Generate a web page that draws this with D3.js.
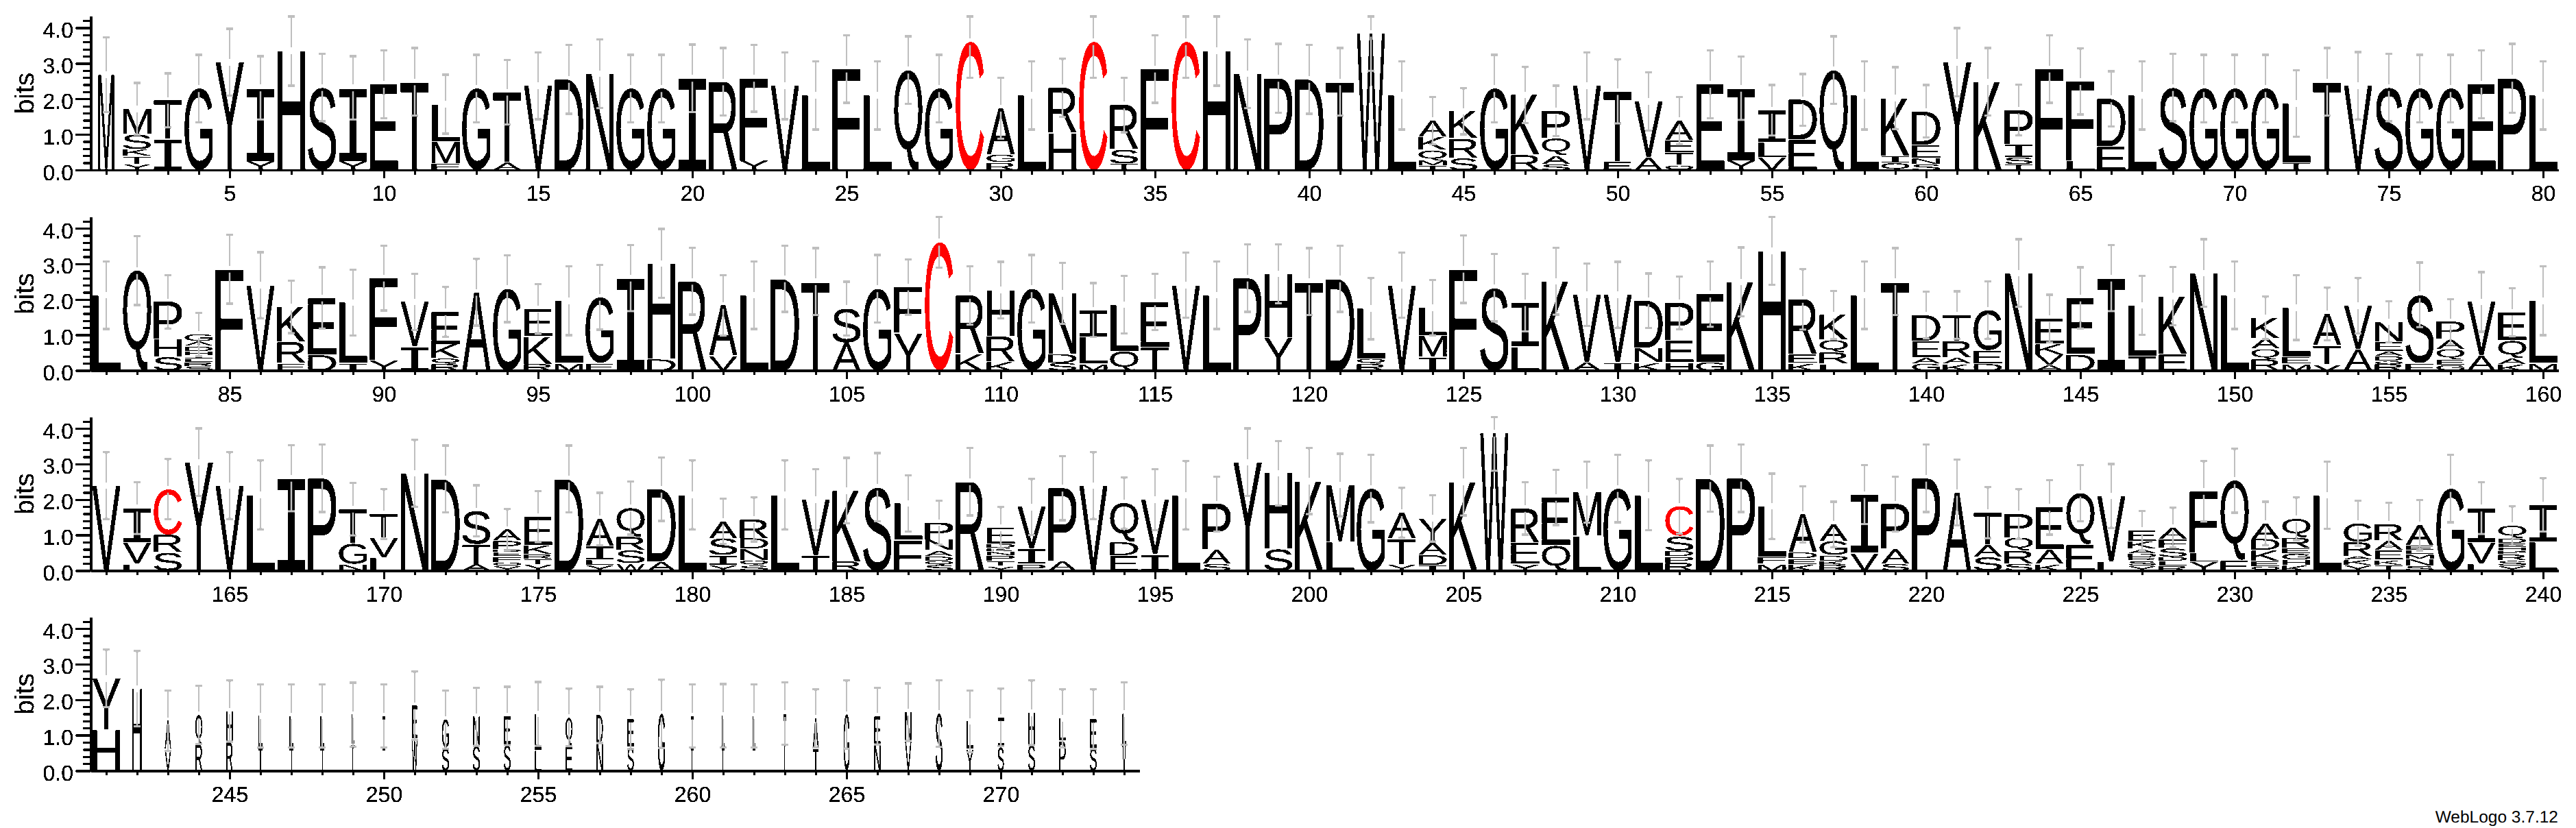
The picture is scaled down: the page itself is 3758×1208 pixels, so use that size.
<!DOCTYPE html>
<html><head><meta charset="utf-8">
<style>html,body{margin:0;background:#fff}svg{display:block}text{font-family:"Liberation Sans",Arial,sans-serif;text-rendering:geometricPrecision}</style>
<script src="https://d3js.org/d3.v7.min.js"></script></head><body><svg id="c" width="3758" height="1208"></svg>
<script>
const row1Letters=["M","YTKSM","IT","G","Y","YI","H","S","YI","E","T","FML","G","AT","V","D","N","G","G","I","R","YF","V","L","F","L","Q","G","C","RGA","L","HR","C","TSR","F","C","H","N","P","D","T","W","L","TMQKA","SRK","G","RK","SAQP","V","ET","AV","QTEA","E","YI","VLI","ED","Q","L","QIK","SNED","Y","K","TSIP","F","LF","ED","L","S","G","G","G","TL","T","V","S","G","G","E","P","L"];
const row1Bits=[[2.68],[.16,.22,.2,.42,.72],[.86,1.1],[2.29],[3.03],[.24,2.07],[3.35],[2.32],[.24,2.07],[2.41],[2.48],[.18,.62,1.05],[2.29],[.21,1.98],[2.37],[2.55],[2.71],[2.29],[2.29],[2.58],[2.48],[.26,2.32],[2.37],[2.1],[2.84],[2.1],[2.81],[2.29],[3.61],[.2,.22,1.32],[2.1],[1.03,1.28],[3.61],[.17,.4,1.26],[2.84],[3.61],[3.35],[2.71],[2.58],[2.55],[2.48],[3.85],[2.1],[.11,.15,.29,.37,.47],[.33,.55,.77],[2.29],[.42,1.69],[.16,.24,.48,.78],[2.37],[.23,1.98],[.35,1.58],[.13,.35,.35,.56],[2.41],[.26,2.04],[.35,.42,.91],[.84,1.13],[2.81],[2.1],[.19,.2,1.63],[.16,.17,.37,.95],[3.03],[2.48],[.15,.2,.37,.97],[2.84],[.25,2.24],[.65,1.35],[2.1],[2.32],[2.29],[2.29],[2.29],[.19,1.68],[2.48],[2.37],[2.32],[2.29],[2.29],[2.41],[2.58],[2.1]];
const row1Err=[1.05,.73,.76,.95,.94,.89,.98,.95,.89,.96,.95,.83,.95,.91,.94,.97,.97,.95,.95,.95,.95,.94,.94,.96,.95,.96,.95,.95,1.02,.86,.96,.82,1.02,.77,.95,1.02,.98,.97,.97,.97,.95,1.06,.96,.67,.65,.95,.79,.71,.94,.9,.82,.67,.96,.89,.71,.73,.95,.96,.87,.74,.96,.95,.71,.95,.93,.78,.96,.95,.95,.95,.95,.94,.95,.95,.95,.95,.95,.96,.97,.96];

const row2Letters=["L","Q","SHP","SRLIHDAG","F","V","ERK","DE","IL","YF","IV","RQKE","A","G","RKE","ML","EG","I","DH","R","VA","L","D","T","AS","G","YF","C","KR","KRH","G","SDN","MLI","QL","TE","V","L","P","YH","T","D","RQL","V","IML","F","S","LI","K","AV","IV","KND","HEP","GE","K","H","KER","LRQK","L","T","GAED","KART","DEG","N","AVKE","DE","I","IL","EK","N","L","RQAK","MEL","VTA","AV","RODAEN","FS","GEQAP","AV","KAQE","ML"];
const row2Bits=[[2.12],[2.81],[.37,.5,1.06],[.1,.12,.1,.1,.12,.14,.13,.2],[2.85],[2.4],[.2,.6,.99],[.44,1.6],[.2,1.71],[.28,2.32],[.66,1.27],[.17,.16,.4,.92],[2.2],[2.3],[.17,.78,.78],[.2,1.76],[.2,1.86],[2.6],[.32,2.69],[2.51],[.4,1.43],[2.12],[2.58],[2.5],[.77,.97],[2.3],[1.05,1.3],[3.61],[.46,1.65],[.24,.72,1.3],[2.3],[.21,.25,1.71],[.18,.76,.76],[.54,1.31],[.65,1.28],[2.4],[2.12],[2.6],[.92,1.8],[2.5],[2.58],[.17,.15,1.42],[2.4],[.37,.6,.8],[2.85],[2.33],[.66,1.25],[2.51],[.22,1.91],[.22,1.91],[.22,.4,1.34],[.22,.62,1.06],[.22,1.93],[2.49],[3.37],[.2,.24,1.56],[.18,.32,.35,.71],[2.12],[2.5],[.18,.17,.47,.74],[.18,.17,.47,.74],[.19,.37,1.14],[2.74],[.14,.3,.3,.72],[.45,1.59],[2.6],[.4,1.43],[.46,1.63],[2.74],[2.12],[.3,.3,.3,.58],[.18,.2,1.39],[.16,.53,.9],[.59,1.23],[.17,.09,.14,.14,.27,.56],[.2,1.93],[.14,.15,.3,.28,.5],[.41,1.52],[.17,.17,.5,.8],[.2,1.76]];
const row2Err=[.95,.97,.75,.61,.97,.93,.74,.86,.93,.91,.79,.7,.94,.94,.7,.97,.91,.93,.97,.94,.85,.95,.93,.94,.76,.95,.78,.72,.82,.8,.95,.86,.76,.81,.79,.92,.95,.95,.83,.94,.93,.86,.92,.78,.95,.95,.81,.94,.88,.93,.77,.74,.92,.97,.96,.85,.68,.95,.94,.66,.67,.81,.95,.67,.86,.93,.83,.82,.95,.95,.6,.91,.74,.78,.58,.91,.64,.84,.68,.97];

const row3Letters=["V","LVI","SRC","Y","V","L","I","P","NGT","LVT","N","D","ATS","YOFEDPA","YTRKE","D","YLIA","WSRQ","AD","L","YISA","SQNDR","L","TV","RK","S","FL","SQDANP","R","YTPNKDE","PIV","AP","V","EDQ","IV","L","SAP","Y","SH","K","LM","G","YTA","IDAY","K","W","YER","QE","LM","G","L","RPDSC","D","P","MFL","KEDA","RKDGA","VI","SAP","P","A","SAT","SRQP","KAE","EQ","LV","YSRDAKE","RLDSFA","YLF","EQ","QEKDA","KHGERQ","L","YKARG","TKEAR","SNMLEA","G","LVI","YSRPHEDQ","LI"];
const row3Bits=[[2.39],[.18,.6,.98],[.5,.5,1.29],[3.05],[2.39],[2.13],[2.6],[2.6],[.18,.58,.97],[.36,.55,.68],[2.74],[2.58],[.17,.56,.95],[.13,.1,.16,.12,.08,.24,.32],[.17,.15,.14,.25,.81],[2.58],[.15,.15,.38,.77],[.19,.37,.38,.82],[.24,2.05],[2.13],[.15,.27,.48,.49],[.13,.15,.32,.3,.54],[2.13],[.42,1.58],[.25,2.0],[2.35],[.85,1.04],[.15,.12,.13,.16,.3,.49],[2.5],[.12,.14,.16,.11,.09,.12,.47],[.18,.42,1.19],[.26,2.06],[2.39],[.42,.38,1.1],[.45,1.55],[2.12],[.18,.4,1.29],[3.05],[.6,2.14],[2.52],[.8,1.61],[2.31],[.17,.72,.74],[.15,.29,.35,.68],[2.5],[3.87],[.18,.6,.97],[.7,1.36],[.97,1.24],[2.31],[2.12],[.21,.18,.16,.41,.85],[2.59],[2.6],[.18,.2,1.43],[.17,.16,.17,1.08],[.15,.12,.15,.4,.48],[.49,1.65],[.18,.42,1.27],[2.6],[2.2],[.37,.35,.91],[.18,.37,.37,.67],[.18,.41,1.19],[.73,1.45],[.25,1.85],[.13,.14,.09,.12,.12,.22,.31],[.12,.14,.12,.25,.25,.33],[.25,.25,1.73],[.28,2.25],[.1,.16,.3,.32,.45],[.15,.15,.17,.16,.3,.53],[2.12],[.15,.15,.1,.4,.53],[.15,.14,.27,.27,.47],[.12,.2,.13,.12,.13,.58],[2.31],[.19,.6,.97],[.13,.15,.17,.1,.1,.11,.14,.36],[.81,1.04]];
const row3Err=[.94,.73,.85,.95,.94,.97,.93,.95,.74,.7,.94,.94,.72,.58,.72,.94,.74,.75,.89,.97,.64,.62,.97,.86,.92,.96,.79,.62,.95,.58,.79,.9,.94,.72,.86,.96,.77,.95,.91,.93,.88,.95,.7,.65,.95,1.06,.74,.78,.86,.95,.98,.77,.93,.95,.92,.79,.64,.83,.77,.95,.93,.72,.7,.77,.79,.9,.55,.56,.85,.9,.61,.6,.95,.64,.61,.71,.95,.73,.55,.75];

const row4Letters=["HY","H","VA","RQ","RH","TL","TL","TL","TL","TT","WE","SG","SN","SE","LL","EQ","ND","SE","G","TT","TL","TL","T","TA","G","NE","VN","S","YL","SI","SH","PL","SE","VL"];
const row4Bits=[[1.15,1.45],[2.31],[.6,.81],[.73,.84],[.79,.89],[.66,.88],[.66,.88],[.66,.88],[.74,.84],[.66,.88],[.89,.94],[.63,.81],[.7,.82],[.73,.81],[.57,1.03],[.7,.8],[.76,.81],[.66,.79],[1.6],[.66,.88],[.66,.89],[.66,.88],[1.61],[.62,.85],[1.58],[.73,.81],[.82,.83],[1.61],[.6,.79],[.66,.84],[.73,.9],[.83,.64],[.63,.82],[.73,.88]];
const row4Err=[.81,1.06,.85,.82,.86,.89,.89,.89,.9,.89,.96,.82,.82,.82,.9,.81,.79,.84,.96,.89,.89,.89,.88,.82,.96,.8,.81,.94,.87,.81,.91,.82,.84,.88];
const row4Widths=[1,.35,.22,.25,.22,.16,.13,.13,.11,.08,.19,.25,.25,.24,.22,.25,.22,.23,.25,.1,.11,.08,.09,.2,.2,.22,.22,.24,.24,.22,.24,.24,.24,.12];
const row1Widths=[.57];

const yTickValues=d3.range(0,22).map(i=>i/5);
const bitsMax=4.32;
const rows=[
 {start:1,letters:row1Letters,bits:row1Bits,err:row1Err,widths:row1Widths,base:248},
 {start:81,letters:row2Letters,bits:row2Bits,err:row2Err,widths:[],base:540.5},
 {start:161,letters:row3Letters,bits:row3Bits,err:row3Err,widths:[],base:832.5},
 {start:241,letters:row4Letters,bits:row4Bits,err:row4Err,widths:row4Widths,base:1124.5}];

const svg=d3.select("#c");
const flt=svg.append("defs").append("filter").attr("id","hard")
  .attr("filterUnits","userSpaceOnUse").attr("x",0).attr("y",0).attr("width",3758).attr("height",1208)
  .attr("color-interpolation-filters","sRGB");
flt.append("feComponentTransfer").append("feFuncA").attr("type","discrete").attr("tableValues","0 1 1");

const mc=document.createElement("canvas").getContext("2d");
const inkCache={};
function famOf(ch){return ch==="I"?'"Liberation Mono"':'"Liberation Sans"';}
function ink(ch){
  if(inkCache[ch])return inkCache[ch];
  mc.font='200px '+famOf(ch);
  const m=mc.measureText(ch);
  return inkCache[ch]={l:-m.actualBoundingBoxLeft/2,r:m.actualBoundingBoxRight/2,t:-m.actualBoundingBoxAscent/2,b:m.actualBoundingBoxDescent/2};
}
const colW=45,stackW=41,leftX=132.5,axisH=224;
const root=svg.append("g").attr("filter","url(#hard)");

rows.forEach(row=>{
  const n=row.letters.length;
  const x=d3.scaleLinear().domain([row.start-.5,row.start+n-.5]).range([leftX,leftX+n*colW]);
  const y=d3.scaleLinear().domain([0,bitsMax]).range([row.base,row.base-axisH]);
  const g=root.append("g");
  const letterG=g.append("g"),barG=g.append("g").attr("stroke","#bfbfbf").attr("fill","none");
  row.letters.forEach((str,i)=>{
    const pos=row.start+i;
    const w=stackW*(row.widths[i]===undefined?1:row.widths[i]);
    let cum=0;
    str.split("").forEach((ch,j)=>{
      const h=row.bits[i][j];
      const y0=y(cum),y1=y(cum+h);cum+=h;
      const box=ink(ch);
      const gap=j>0?1:0;
      const sx=w/(box.r-box.l),sy=(y0-gap-y1)/(box.b-box.t);
      const left=x(pos)-w/2;
      letterG.append("text").text(ch)
        .attr("font-size",100)
        .style("font-family",famOf(ch))
        .attr("fill",ch==="C"?"#ff0000":"#000")
        .attr("transform",`translate(${left-box.l*sx},${y1-box.t*sy}) scale(${sx},${sy})`);
    });
    const top=cum,e=row.err[i];
    const cx=x(pos),hi=y(Math.min(top+e,bitsMax)),lo=y(top-e),mid=y(top),gp=5;
    barG.append("line").attr("x1",cx).attr("x2",cx).attr("y1",hi).attr("y2",mid-gp).attr("stroke-width",2.5);
    barG.append("line").attr("x1",cx).attr("x2",cx).attr("y1",mid+gp).attr("y2",lo).attr("stroke-width",2.5);
    barG.append("line").attr("x1",cx-5).attr("x2",cx+5).attr("y1",hi).attr("y2",hi).attr("stroke-width",3);
    barG.append("line").attr("x1",cx-5).attr("x2",cx+5).attr("y1",lo).attr("y2",lo).attr("stroke-width",3);
  });
  const ax=g.append("g").attr("transform",`translate(0,${row.base})`)
    .call(d3.axisBottom(x).tickValues(d3.range(row.start,row.start+n)).tickSizeOuter(0).tickFormat(d=>d%5===0?d:""));
  ax.select(".domain").attr("stroke","#000").attr("stroke-width",3.5);
  ax.selectAll(".tick line").attr("stroke","#000").attr("stroke-width",3).attr("y2",d=>d%5===0?12:6.5);
  ax.selectAll(".tick text").attr("fill","#000").attr("font-size",32).attr("y",45).attr("dy",0).attr("font-family",null);
  const ay=g.append("g").attr("transform",`translate(${leftX},0)`)
    .call(d3.axisLeft(y).tickValues(yTickValues).tickSizeOuter(0).tickFormat(d=>Math.abs(d-Math.round(d))<1e-6?d.toFixed(1):""));
  ay.select(".domain").attr("stroke","#000").attr("stroke-width",3.5);
  const isMajor=d=>Math.abs(d-Math.round(d))<1e-6;
  ay.selectAll(".tick line").attr("stroke","#000").attr("stroke-width",3).attr("x2",d=>isMajor(d)?-22:-11);
  ay.selectAll(".tick text").attr("fill","#000").attr("font-size",32).attr("x",-25.5).attr("dy",14).attr("font-family",null);
  g.append("text").text("bits").attr("font-size",39).attr("text-anchor","middle")
    .attr("transform",`translate(49,${row.base-112}) rotate(-90)`);
});
svg.append("text").text("WebLogo 3.7.12").attr("x",3732).attr("y",1200).attr("text-anchor","end").attr("font-size",24.5);
</script></body></html>
